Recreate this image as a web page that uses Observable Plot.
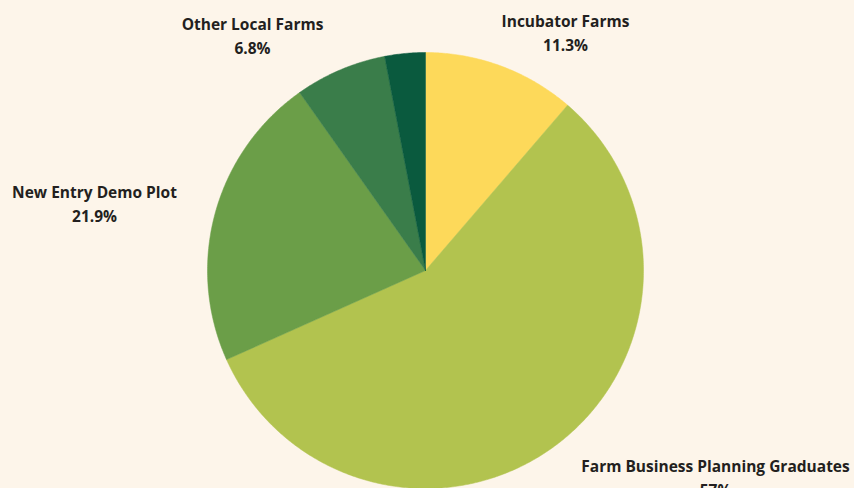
<!DOCTYPE html>
<html>
<head>
<meta charset="utf-8">
<script src="https://cdn.jsdelivr.net/npm/d3@7"></script>
<script src="https://cdn.jsdelivr.net/npm/@observablehq/plot@0.6"></script>
<style>
  html, body { margin: 0; padding: 0; background: #FDF5EA; }
  #chart { width: 854px; height: 488px; overflow: hidden; }
</style>
</head>
<body>
<div id="chart"></div>
<script>
// Data
const categories = ["Incubator Farms", "Farm Business Planning Graduates", "New Entry Demo Plot", "Other Local Farms", "Other"];
const shares = [11.3, 57, 21.9, 6.8, 3];
const valueLabels = ["11.3%", "57%", "21.9%", "6.8%", ""];
const colors = ["#FDD95A", "#B2C34F", "#6B9E48", "#3A7D4A", "#0A5A3E"];

// Layout (not data)
const W = 854, H = 488, cx = 425, cy = 270, R = 218;
const labelPos = [
  {dx: 140, dy: -239},   // Incubator
  {dx: 290, dy: 206},    // FBPG
  {dx: -331, dy: -68},   // New Entry
  {dx: -173, dy: -236},  // Other Local
  null
];

const pie = d3.pie().sort(null).value(d => d)(shares);
const pts = [];
pie.forEach((p, i) => {
  pts.push({cat: categories[i], x: 0, y: 0});
  const n = Math.max(4, Math.ceil((p.endAngle - p.startAngle) * 120));
  for (let k = 0; k <= n; k++) {
    const a = p.startAngle + (p.endAngle - p.startAngle) * k / n;
    pts.push({cat: categories[i], x: Math.sin(a), y: -Math.cos(a)});
  }
  pts.push({cat: categories[i], x: 0, y: 0});
});

const labels = categories.map((c, i) => labelPos[i] ? {
  text: c + "\n" + valueLabels[i],
  x: labelPos[i].dx / R,
  y: labelPos[i].dy / R
} : null).filter(Boolean);

const chart = Plot.plot({
  width: W, height: H,
  margin: 0,
  style: {background: "#FDF5EA", overflow: "visible"},
  x: {domain: [-cx / R, (W - cx) / R], range: [0, W], axis: null},
  y: {domain: [-cy / R, (H - cy) / R], range: [0, H], axis: null},
  color: {domain: categories, range: colors},
  marks: [
    Plot.line(pts, {x: "x", y: "y", z: "cat", fill: "cat", stroke: "cat", strokeWidth: 0.5, curve: "linear"}),
    Plot.text(labels, {
      x: "x", y: "y", text: "text",
      fontFamily: "Open Sans", fontWeight: "bold", fontSize: 15.5,
      lineHeight: 1.55, fill: "#231F20", textAnchor: "middle"
    })
  ]
});
document.getElementById("chart").appendChild(chart);
</script>
</body>
</html>
